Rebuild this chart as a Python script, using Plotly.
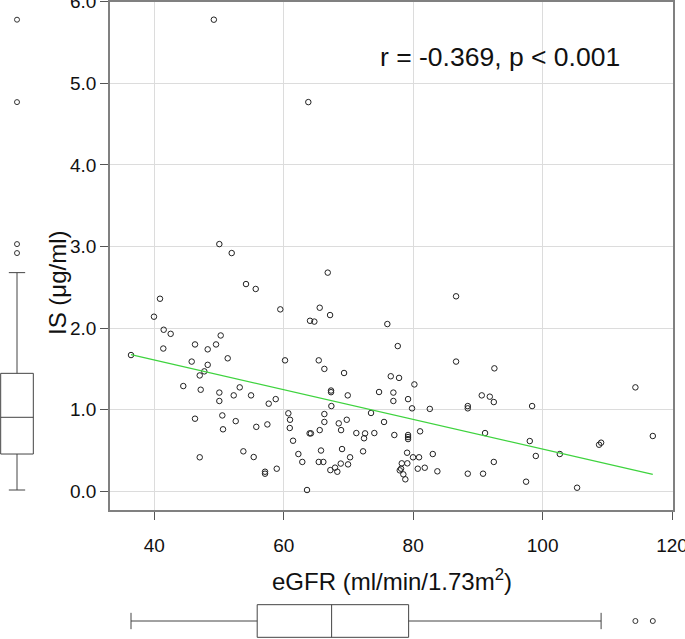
import plotly.graph_objects as go

# ---- data ----
egfr = [49.2, 63.8, 50.05, 51.96, 54.17, 55.67, 59.47, 40.88, 39.95, 41.45,
        42.53, 41.39, 46.29, 48.25, 49.54, 50.26, 36.40, 45.78, 48.25, 51.34,
        47.73, 47.02, 60.20, 44.48, 47.17, 50.05, 50.05, 52.27, 53.2, 54.95,
        57.68, 58.76, 46.29, 50.51, 50.62, 52.58, 55.76, 57.47, 60.71, 60.97,
        60.93, 61.44, 62.26, 47.02, 53.76, 55.36, 57.11, 57.11, 58.92, 66.80,
        86.63, 65.56, 64.06, 64.73, 67.16, 76.01, 77.62, 65.41, 66.28, 69.32,
        76.54, 77.82, 86.63, 80.19, 67.31, 67.31, 69.89, 74.73, 76.94, 76.94,
        79.21, 79.83, 82.57, 88.44, 88.44, 67.36, 62.87, 66.28, 66.28, 65.56,
        64.0, 64.2, 68.5, 69.74, 68.86, 71.22, 72.57, 72.41, 73.49, 74.0,
        75.50, 77.09, 79.21, 79.21, 79.21, 81.07, 65.76, 69.01, 72.26, 70.25,
        65.41, 66.12, 68.81, 69.94, 67.2, 67.93, 68.28, 63.6, 79.06, 79.98,
        80.91, 83.03, 78.24, 79.1, 77.93, 78.13, 78.48, 78.79, 80.71, 81.79,
        83.74, 88.44, 92.55, 90.6, 91.84, 92.46, 98.38, 114.34, 91.11, 98.02,
        98.95, 102.66, 108.73, 109.04, 117.03, 92.46, 90.8, 97.45, 105.33]

is_ugml = [5.78, 4.77, 3.03, 2.92, 2.54, 2.48, 2.23, 2.36, 2.14, 1.98,
           1.93, 1.75, 1.80, 1.74, 1.80, 1.91, 1.67, 1.59, 1.55, 1.63,
           1.47, 1.42, 1.605, 1.29, 1.245, 1.21, 1.107, 1.176, 1.274, 1.176,
           1.074, 1.13, 0.89, 0.93, 0.76, 0.86, 0.79, 0.82, 0.956, 0.877,
           0.776, 0.62, 0.457, 0.417, 0.49, 0.42, 0.24, 0.216, 0.277, 2.68,
           2.39, 2.25, 2.09, 2.08, 2.16, 2.05, 1.78, 1.605, 1.50, 1.45,
           1.41, 1.39, 1.59, 1.31, 1.235, 1.215, 1.176, 1.217, 1.21, 1.107,
           1.13, 1.017, 1.01, 1.045, 1.017, 1.045, 0.36, 0.947, 0.85, 0.75,
           0.71, 0.71, 0.833, 0.877, 0.75, 0.714, 0.71, 0.65, 0.96, 0.714,
           0.85, 0.69, 0.69, 0.665, 0.64, 0.735, 0.50, 0.518, 0.49, 0.417,
           0.36, 0.36, 0.34, 0.33, 0.26, 0.29, 0.24, 0.016, 0.473, 0.417,
           0.417, 0.457, 0.343, 0.343, 0.257, 0.277, 0.208, 0.147, 0.277, 0.289,
           0.245, 0.216, 1.507, 1.176, 1.16, 1.094, 1.045, 1.274, 0.714, 0.616,
           0.433, 0.457, 0.571, 0.596, 0.678, 0.36, 0.216, 0.118, 0.044]

fit_egfr = [36.40, 117.03]
fit_is = [1.674, 0.208]

# box-plot summaries: [lower whisker, Q1, median, Q3, upper whisker]
is_summary = [0.016, 0.457, 0.907, 1.446, 2.68]
is_outliers = [2.92, 3.03, 4.77, 5.78]
egfr_summary = [36.40, 55.9, 67.4, 79.3, 109.04]
egfr_outliers = [114.34, 117.03]

x_ticks = [40, 60, 80, 100, 120]
y_ticks = [0, 1, 2, 3, 4, 5, 6]
stat_text = "r = -0.369, p < 0.001"
x_title = "eGFR (ml/min/1.73m<sup>2</sup>)"
y_title = "IS (μg/ml)"

# ---- layout geometry ----
W, H = 685, 639
FONT = "Liberation Sans, Arial, sans-serif"
x_rng = [33.155, 120.15]
y_rng = [-0.229, 6.0005]
main_xdom = [110 / W, 673 / W]
main_ydom = [(H - 510) / H, (H - 1.7) / H]
LINE = "#808080"
BOXC = "#444444"

fig = go.Figure()

fig.add_trace(go.Scatter(
    x=egfr, y=is_ugml, mode="markers", xaxis="x", yaxis="y",
    marker=dict(symbol="circle-open", size=5.5, color="#222222",
                line=dict(width=1, color="#222222")),
    showlegend=False, hoverinfo="x+y"))

fig.add_trace(go.Scatter(
    x=fit_egfr, y=fit_is, mode="lines", xaxis="x", yaxis="y",
    line=dict(color="#3ed33e", width=1.3), showlegend=False))

# left (IS) box plot
fig.add_trace(go.Box(
    x=[0], lowerfence=[is_summary[0]], q1=[is_summary[1]], median=[is_summary[2]],
    q3=[is_summary[3]], upperfence=[is_summary[4]],
    xaxis="x2", yaxis="y2", width=0.96, boxpoints=False,
    line=dict(color=BOXC, width=1), fillcolor="rgba(255,255,255,0)",
    showlegend=False))
fig.add_trace(go.Scatter(
    x=[0] * len(is_outliers), y=is_outliers, mode="markers", xaxis="x2", yaxis="y2",
    marker=dict(symbol="circle-open", size=5, color="#333333", line=dict(width=1)),
    showlegend=False))

# bottom (eGFR) box plot
fig.add_trace(go.Box(
    y=[0], lowerfence=[egfr_summary[0]], q1=[egfr_summary[1]], median=[egfr_summary[2]],
    q3=[egfr_summary[3]], upperfence=[egfr_summary[4]], orientation="h",
    xaxis="x3", yaxis="y3", width=0.96, boxpoints=False,
    line=dict(color=BOXC, width=1), fillcolor="rgba(255,255,255,0)",
    showlegend=False))
fig.add_trace(go.Scatter(
    x=egfr_outliers, y=[0] * len(egfr_outliers), mode="markers", xaxis="x3", yaxis="y3",
    marker=dict(symbol="circle-open", size=5, color="#333333", line=dict(width=1)),
    showlegend=False))

axis_common = dict(showline=True, mirror=True, linecolor=LINE, linewidth=1.5,
                   ticks="outside", ticklen=8, tickcolor="#555555", tickwidth=1,
                   showgrid=True, gridcolor="#dcdcdc", gridwidth=1, zeroline=False,
                   automargin=False, ticklabeloverflow="allow",
                   tickfont=dict(family=FONT, size=19, color="#111111"))
hidden = dict(visible=False, automargin=False)

fig.update_layout(
    width=W, height=H, margin=dict(l=0, r=0, t=0, b=0, autoexpand=False),
    paper_bgcolor="white", plot_bgcolor="white", showlegend=False,
    font=dict(family=FONT, color="#111111"),
    xaxis=dict(domain=main_xdom, range=x_rng, tickvals=x_ticks, anchor="y",
               ticklabelstandoff=9, **axis_common),
    yaxis=dict(domain=main_ydom, range=y_rng, tickvals=y_ticks, tickformat=".1f",
               anchor="x", **axis_common),
    xaxis2=dict(domain=[0, 34 / W], range=[-0.5, 0.5], anchor="y2", **hidden),
    yaxis2=dict(domain=main_ydom, range=y_rng, anchor="x2", **hidden),
    xaxis3=dict(domain=main_xdom, range=x_rng, anchor="y3", **hidden),
    yaxis3=dict(domain=[1 / H, 35 / H], range=[-0.5, 0.5], anchor="x3", **hidden),
    annotations=[
        dict(text=stat_text, xref="paper", yref="paper", x=500 / W, y=1 - 57 / H,
             xanchor="center", yanchor="middle", showarrow=False,
             font=dict(family=FONT, size=26.5, color="#111111")),
        dict(text=x_title, xref="paper", yref="paper", x=391.5 / W, y=1 - 580 / H,
             xanchor="center", yanchor="middle", showarrow=False,
             font=dict(family=FONT, size=24, color="#111111")),
        dict(text=y_title, xref="paper", yref="paper", x=58 / W, y=1 - 283 / H,
             xanchor="center", yanchor="middle", showarrow=False, textangle=-90,
             font=dict(family=FONT, size=24, color="#111111")),
    ],
)

fig.write_html(
    "out.html",
    config={"displayModeBar": False},
    post_script="document.body.style.margin='0';document.body.style.overflow='hidden';",
)
